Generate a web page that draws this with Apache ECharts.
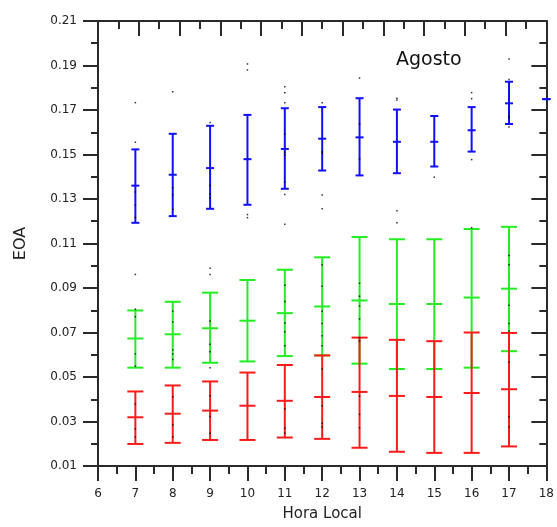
<!DOCTYPE html>
<html>
<head>
<meta charset="utf-8">
<script src="https://cdn.jsdelivr.net/npm/echarts@6/dist/echarts.min.js"></script>
<style>
html,body{margin:0;padding:0;background:#fff;}
#chart{width:557px;height:527px;}
</style>
</head>
<body>
<div id="chart"></div>
<script>
// ---- data ----
const hours = [7, 8, 9, 10, 11, 12, 13, 14, 15, 16, 17];
const blueHours = [7, 8, 9, 10, 11, 12, 13, 14, 15, 16, 17, 18];
const blueMean = [0.1360, 0.1409, 0.1439, 0.1479, 0.1525, 0.1571, 0.1577, 0.1557, 0.1557, 0.1609, 0.1730, 0.1749];
const blueLow  = [0.1193, 0.1223, 0.1256, 0.1274, 0.1346, 0.1428, 0.1406, 0.1416, 0.1446, 0.1513, 0.1637, 0.1749];
const blueHigh = [0.1523, 0.1593, 0.1629, 0.1678, 0.1708, 0.1713, 0.1753, 0.1702, 0.1673, 0.1713, 0.1827, 0.1749];

const greenMean = [0.0673, 0.0692, 0.0719, 0.0753, 0.0787, 0.0817, 0.0844, 0.0828, 0.0828, 0.0857, 0.0897];
const greenLow  = [0.0542, 0.0542, 0.0564, 0.0570, 0.0594, 0.0597, 0.0560, 0.0536, 0.0536, 0.0542, 0.0616];
const greenHigh = [0.0799, 0.0838, 0.0879, 0.0936, 0.0982, 0.1038, 0.1129, 0.1119, 0.1119, 0.1165, 0.1175];

const redMean = [0.0319, 0.0335, 0.0349, 0.0371, 0.0393, 0.0410, 0.0433, 0.0415, 0.0410, 0.0428, 0.0445];
const redLow  = [0.0199, 0.0204, 0.0217, 0.0217, 0.0228, 0.0222, 0.0182, 0.0164, 0.0159, 0.0159, 0.0188];
const redHigh = [0.0435, 0.0462, 0.0480, 0.0520, 0.0554, 0.0597, 0.0677, 0.0667, 0.0661, 0.0700, 0.0698];

const dotHours = [
  7,7,7,7,7,7,7,7,7,7,7,7,7,
  8,8,8,8,8,8,8,8,8,8,8,8,
  9,9,9,9,9,9,9,9,9,9,9,9,9,
  10,10,10,10,
  11,11,11,11,11,11,11,11,11,11,11,11,11,11,11,11,11,
  12,12,12,12,12,12,12,12,12,12,12,12,12,12,12,
  13,13,13,13,13,13,13,13,13,13,13,13,
  14,14,14,14,
  15,
  16,16,16,16,
  17,17,17,17,17,17,17,17,17,17,17,17,17
];
const dotValues = [
  0.1733,0.1555,0.1331,0.1272,0.1217,0.0961,0.0805,0.0771,0.0604,0.0549,0.0378,0.0267,0.0231,
  0.1782,0.1351,0.1320,0.1254,0.0796,0.0747,0.0622,0.0603,0.0579,0.0411,0.0285,0.0231,
  0.1644,0.1361,0.1324,0.1305,0.0989,0.0961,0.0752,0.0647,0.0613,0.0542,0.0416,0.0322,0.0247,
  0.1907,0.1880,0.1230,0.1216,
  0.1804,0.1778,0.1733,0.1592,0.1510,0.1498,0.1376,0.1320,0.1186,0.0912,0.0839,0.0743,0.0703,0.0640,0.0357,0.0270,0.0247,
  0.1733,0.1512,0.1507,0.1318,0.1256,0.1004,0.0908,0.0796,0.0740,0.0685,0.0640,0.0536,0.0371,0.0292,0.0275,
  0.1844,0.1636,0.1480,0.0921,0.0863,0.0819,0.0761,0.0677,0.0662,0.0414,0.0332,0.0272,
  0.1753,0.1745,0.1247,0.1193,
  0.1398,
  0.1778,0.1751,0.1477,0.1171,
  0.1929,0.1837,0.1673,0.1664,0.1624,0.1046,0.1004,0.0823,0.0741,0.0707,0.0566,0.0320,0.0275
];

const xTicks = ['6','7','8','9','10','11','12','13','14','15','16','17','18'];
const yTicks = ['0.01','0.03','0.05','0.07','0.09','0.11','0.13','0.15','0.17','0.19','0.21'];

// ---- build ----
function rows(xs, lo, mid, hi) {
  return xs.map((x, i) => [x, lo[i], mid[i], hi[i]]);
}
function errRender(capW, lw, color) {
  return function (params, api) {
    const x = api.value(0);
    const pLo = api.coord([x, api.value(1)]);
    const pMid = api.coord([x, api.value(2)]);
    const pHi = api.coord([x, api.value(3)]);
    const h = capW / 2;
    const st = { stroke: color, lineWidth: lw };
    return {
      type: 'group',
      children: [
        { type: 'line', shape: { x1: pLo[0], y1: pLo[1], x2: pHi[0], y2: pHi[1] }, style: st },
        { type: 'line', shape: { x1: pLo[0] - h, y1: pLo[1], x2: pLo[0] + h, y2: pLo[1] }, style: st },
        { type: 'line', shape: { x1: pHi[0] - h, y1: pHi[1], x2: pHi[0] + h, y2: pHi[1] }, style: st },
        { type: 'line', shape: { x1: pMid[0] - h, y1: pMid[1], x2: pMid[0] + h, y2: pMid[1] }, style: st }
      ]
    };
  };
}

const axisCol = '#2a2a2a';
const lblFont = { fontFamily: 'DejaVu Sans', fontSize: 12, color: '#222' };

const chart = echarts.init(document.getElementById('chart'), null, { renderer: 'canvas' });
chart.setOption({
  animation: false,
  backgroundColor: '#fff',
  title: {
    text: 'Agosto', left: 391, top: 46,
    textStyle: { fontFamily: 'DejaVu Sans', fontSize: 19, fontWeight: 'normal', color: '#111' }
  },
  grid: { left: 98, right: 9, top: 21, bottom: 57 },
  xAxis: [
    {
      type: 'value', position: 'bottom', min: 6, max: 18, interval: 1,
      name: 'Hora Local', nameLocation: 'middle', nameGap: 41,
      nameTextStyle: { fontFamily: 'DejaVu Sans', fontSize: 15, color: '#222' },
      axisLine: { show: true, lineStyle: { color: axisCol, width: 2 } },
      axisTick: { show: true, inside: false, length: 15, lineStyle: { color: axisCol, width: 2 } },
      minorTick: { show: true, splitNumber: 2, length: 8, lineStyle: { color: axisCol, width: 2 } },
      axisLabel: { margin: 22, ...lblFont, formatter: (v) => xTicks[Math.round(v - 6)] },
      splitLine: { show: false }, minorSplitLine: { show: false }
    },
    {
      type: 'value', position: 'top', min: 0, max: 11, interval: 1,
      axisLine: { show: true, lineStyle: { color: axisCol, width: 2 } },
      axisTick: { show: true, inside: true, length: 15, lineStyle: { color: axisCol, width: 2 } },
      minorTick: { show: true, splitNumber: 2, length: 8, lineStyle: { color: axisCol, width: 2 } },
      axisLabel: { show: false },
      splitLine: { show: false }
    }
  ],
  yAxis: [
    {
      type: 'value', position: 'left', min: 0.01, max: 0.21, interval: 0.02,
      name: 'EOA', nameLocation: 'middle', nameGap: 69,
      nameTextStyle: { fontFamily: 'DejaVu Sans', fontSize: 16, color: '#222' },
      axisLine: { show: true, lineStyle: { color: axisCol, width: 2 } },
      axisTick: { show: true, inside: false, length: 15, lineStyle: { color: axisCol, width: 2 } },
      minorTick: { show: true, splitNumber: 2, length: 7, lineStyle: { color: axisCol, width: 2 } },
      axisLabel: { margin: 21, ...lblFont, formatter: (v) => yTicks[Math.round((v - 0.01) / 0.02)] },
      splitLine: { show: false }
    },
    {
      type: 'value', position: 'right', min: 0.01, max: 0.21, interval: 0.02,
      axisLine: { show: true, lineStyle: { color: axisCol, width: 2 } },
      axisTick: { show: true, inside: true, length: 15, lineStyle: { color: axisCol, width: 2 } },
      minorTick: { show: true, splitNumber: 2, length: 7, lineStyle: { color: axisCol, width: 2 } },
      axisLabel: { show: false },
      splitLine: { show: false }
    }
  ],
  series: [
    {
      type: 'custom', name: 'azul', xAxisIndex: 0, yAxisIndex: 0, clip: false,
      renderItem: errRender(8, 2, '#1010ff'),
      encode: { x: 0, y: [1, 2, 3] },
      data: rows(blueHours, blueLow, blueMean, blueHigh)
    },
    {
      type: 'custom', name: 'verde', xAxisIndex: 0, yAxisIndex: 0, clip: false,
      renderItem: errRender(16, 2, '#22ee22'),
      encode: { x: 0, y: [1, 2, 3] },
      data: rows(hours, greenLow, greenMean, greenHigh)
    },
    {
      type: 'custom', name: 'rojo', xAxisIndex: 0, yAxisIndex: 0, clip: false,
      renderItem: errRender(16, 2, '#ff1a1a'),
      encode: { x: 0, y: [1, 2, 3] },
      data: rows(hours, redLow, redMean, redHigh)
    },
    {
      type: 'scatter', name: 'datos', xAxisIndex: 0, yAxisIndex: 0,
      symbol: 'rect', symbolSize: 1.5,
      itemStyle: { color: '#000' },
      data: dotHours.map((h, i) => [h, dotValues[i]])
    }
  ]
});
</script>
</body>
</html>
